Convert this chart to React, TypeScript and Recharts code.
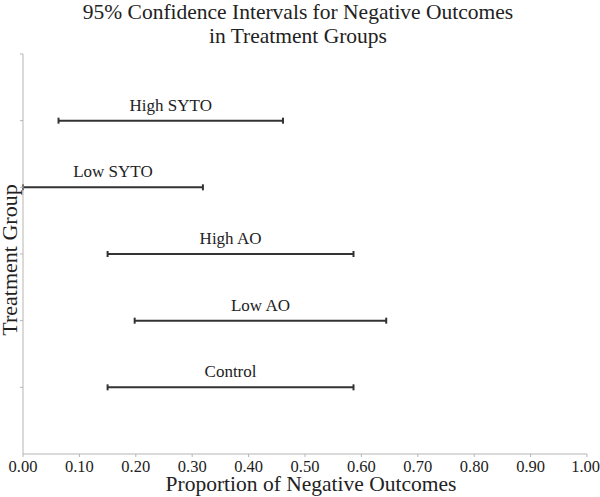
import { ScatterChart, Scatter, XAxis, YAxis, ErrorBar, Label } from 'recharts'

const groups = ['High SYTO', 'Low SYTO', 'High AO', 'Low AO', 'Control']
const groupRows = [5, 4, 3, 2, 1]
const lowerBounds = [0.063, 0.0, 0.15, 0.198, 0.15]
const upperBounds = [0.461, 0.319, 0.586, 0.644, 0.586]
const xTicks = [0, 0.1, 0.2, 0.3, 0.4, 0.5, 0.6, 0.7, 0.8, 0.9, 1]
const yTicks = [1, 2, 3, 4, 5, 6]

const data = groups.map((group, i) => {
  const mid = (lowerBounds[i] + upperBounds[i]) / 2
  return {
    group,
    row: groupRows[i],
    mid,
    err: [mid - lowerBounds[i], upperBounds[i] - mid],
  }
})

const font = 'Liberation Serif, DejaVu Serif, serif'
const axisGray = '#b5b5b5'
const ink = '#222'

function GroupLabel(props: any) {
  const { cx, cy, payload } = props
  return (
    <text x={cx} y={cy - 10} textAnchor="middle" fontSize={17} fill={ink} style={{ fontFamily: font }}>
      {payload.group}
    </text>
  )
}

export default function App() {
  return (
    <div style={{ position: 'absolute', left: 0, top: 0, width: 600, height: 497, fontFamily: font, background: '#fff' }}>
      <div
        style={{
          position: 'absolute',
          left: 0,
          top: 0,
          width: 596,
          textAlign: 'center',
          fontSize: 21.5,
          lineHeight: '24px',
          color: ink,
        }}
      >
        95% Confidence Intervals for Negative Outcomes
        <br />
        in Treatment Groups
      </div>
      <ScatterChart
        width={600}
        height={497}
        margin={{ top: 54, right: 13, bottom: 0, left: 0 }}
        style={{ fontFamily: font }}
      >
        <XAxis
          type="number"
          dataKey="mid"
          domain={[0, 1]}
          ticks={xTicks}
          tickFormatter={(v: number) => v.toFixed(2)}
          height={43}
          stroke={axisGray}
          tickSize={3}
          tickMargin={3}
          tick={{ fill: ink, fontSize: 16.5, style: { fontFamily: font } }}
          allowDataOverflow
        >
          <Label
            value="Proportion of Negative Outcomes"
            position="insideBottom"
            offset={6}
            dx={6}
            fill={ink}
            fontSize={21.5}
            style={{ fontFamily: font }}
          />
        </XAxis>
        <YAxis
          type="number"
          dataKey="row"
          domain={[0, 6]}
          ticks={yTicks}
          width={23}
          stroke={axisGray}
          tickSize={3}
          tickFormatter={() => ''}
        >
          <Label
            value="Treatment Group"
            angle={-90}
            position="insideLeft"
            offset={9}
            dy={6}
            fill={ink}
            fontSize={22}
            style={{ textAnchor: 'middle', fontFamily: font }}
          />
        </YAxis>
        <Scatter data={data} shape={GroupLabel} isAnimationActive={false}>
          <ErrorBar
            dataKey="err"
            direction="x"
            width={3}
            stroke="#333"
            strokeWidth={2}
            isAnimationActive={false}
          />
        </Scatter>
      </ScatterChart>
    </div>
  )
}
